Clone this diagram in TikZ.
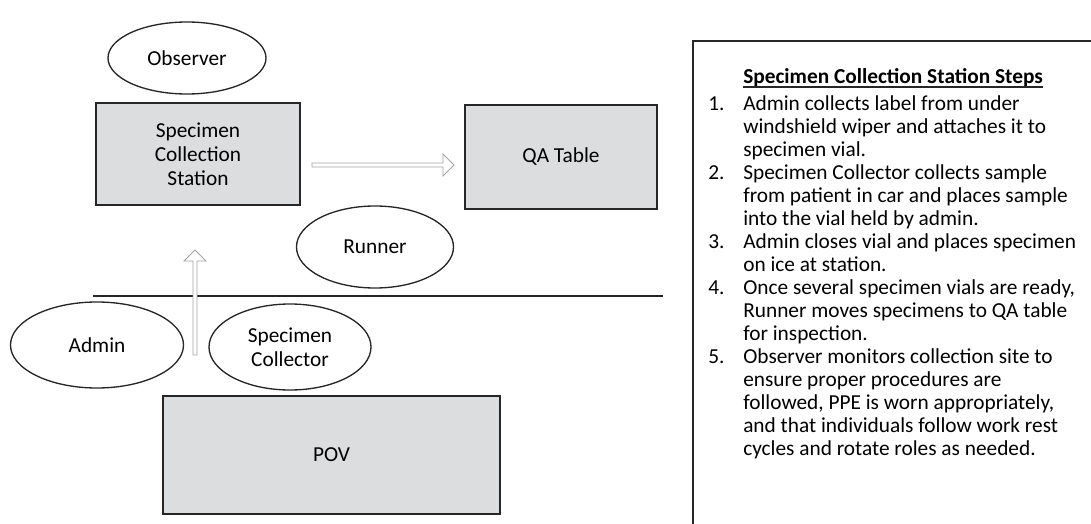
\documentclass[tikz,border=0pt]{standalone}
\usepackage{fontspec}
\setmainfont{Carlito}
\usetikzlibrary{shapes.geometric,calc}

\definecolor{boxfill}{HTML}{DCDDDF}
\definecolor{boxline}{HTML}{262626}
\definecolor{arrowline}{HTML}{A3A3A3}

\begin{document}
\begin{tikzpicture}[x=0.75pt, y=-0.75pt,
  font=\fontsize{16}{18}\selectfont,
  area/.style={draw=boxline, fill=boxfill, line width=1.3pt, align=center, inner sep=0},
  role/.style={draw=boxline, ellipse, line width=1pt, align=center, inner sep=0},
  hollow/.style={draw=arrowline, fill=white, line width=0.7pt, line join=miter},
  divider/.style={draw=boxline, line width=0.8pt}]

  % pixel unit
  \def\px{0.75pt}

  % page
  \useasboundingbox (0,0) rectangle (1091,524);

  % separating line
  \coordinate (divL) at (93,296);
  \coordinate (divR) at (663,296);
  \draw[divider] (divL) -- (divR);

  % stations
  \node (station) [area, minimum width=204*\px, minimum height=102*\px] at (198,154) {Specimen\\Collection\\Station};
  \node (qa) [area, minimum width=192*\px, minimum height=104*\px] at (561,157) {QA Table};
  \node (pov) [area, minimum width=337*\px, minimum height=118*\px] at (331.5,455) {POV};

  % roles
  \node (observer) [role, minimum width=158*\px, minimum height=72*\px] at (187,58) {Observer};
  \node (runner) [role, minimum width=157*\px, minimum height=82*\px] at (375,247) {Runner};
  \node (admin) [role, minimum width=173*\px, minimum height=86*\px] at (97,345) {Admin};
  \node (collector) [role, minimum width=162*\px, minimum height=86*\px] at (290,347) {Specimen\\Collector};

  % flow arrows
  \coordinate (hbase) at (312,165);
  \coordinate (htip) at (454,165);
  \coordinate (vbase) at (195,355);
  \coordinate (vtip) at (195,250);
  \draw[hollow] ($(hbase)+(0,-2)$) -- ++(131,0) -- ++(0,-9) -- (htip)
    -- ++(-11,11) -- ++(0,-9) -- ++(-131,0) -- cycle;
  \draw[hollow] ($(vbase)+(-2,0)$) -- ++(0,-94) -- ++(-9,0) -- (vtip)
    -- ++(11,11) -- ++(-9,0) -- ++(0,94) -- cycle;

  % steps box
  \draw[boxline, line width=1.5pt] (1091,41) -| (693,524);
  \node (title) [anchor=base west, inner sep=0, font=\bfseries\fontsize{16}{18}\selectfont] at (743,84)
    {Specimen Collection Station Steps};
  \draw[boxline, line width=0.9pt] ($(title.base west)+(0,3)$) -- ($(title.base east)+(0,3)$);
  \node (steps) [anchor=base west, inner sep=0, font=\fontsize{16}{17.25}\selectfont] at (708,110.5)
    {\begin{tabular}[t]{@{}p{26.25pt}@{}l@{}}
      1. & Admin collects label from under\\
         & windshield wiper and attaches it to\\
         & specimen vial.\\
      2. & Specimen Collector collects sample\\
         & from patient in car and places sample\\
         & into the vial held by admin.\\
      3. & Admin closes vial and places specimen\\
         & on ice at station.\\
      4. & Once several specimen vials are ready,\\
         & Runner moves specimens to QA table\\
         & for inspection.\\
      5. & Observer monitors collection site to\\
         & ensure proper procedures are\\
         & followed, PPE is worn appropriately,\\
         & and that individuals follow work rest\\
         & cycles and rotate roles as needed.
    \end{tabular}};

\end{tikzpicture}
\end{document}
